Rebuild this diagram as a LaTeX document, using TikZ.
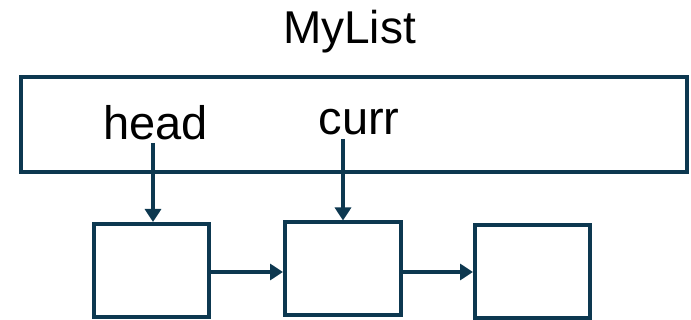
\documentclass[tikz,border=0pt]{standalone}
\usepackage{fontspec}
\setmainfont{Liberation Sans}
\usetikzlibrary{arrows.meta}
\definecolor{navy}{HTML}{0D3850}
\begin{document}
\begin{tikzpicture}[x=1pt,y=-1pt,
  frame/.style={draw=navy,line width=4pt,fill=white,inner sep=0pt,outer sep=2pt},
  cell/.style={frame,minimum width=115pt,minimum height=93pt},
  label/.style={font=\fontsize{46}{46}\selectfont,inner sep=0pt,anchor=base},
  link/.style={draw=navy,line width=3.6pt,-{Triangle[length=13pt,width=16pt]}}]
  \useasboundingbox (0,0) rectangle (691,320);
  % list object and its title
  \node[label] (title) at (349.5,44) {MyList};
  \node[frame,minimum width=666pt,minimum height=95pt] (list) at (354,124.5) {};
  \node[label,font=\fontsize{47}{47}\selectfont] (head) at (155.5,140) {head};
  \node[label,font=\fontsize{47}{47}\selectfont] (curr) at (359,135) {curr};
  % linked nodes
  \node[cell] (n1) at (151.5,270.5) {};
  \node[cell,minimum width=116pt] (n2) at (343,269) {};
  \node[cell] (n3) at (532.5,272) {};
  % pointers
  \coordinate (hs) at (153,143);
  \coordinate (cs) at (343,139);
  \draw[link] (hs) -- (hs |- n1.north);
  \draw[link] (cs) -- (cs |- n2.north);
  \coordinate (a1) at (n1.east |- 0,272);
  \coordinate (a2) at (n2.east |- 0,272);
  \draw[link] (a1) -- (a1 -| n2.west);
  \draw[link] (a2) -- (a2 -| n3.west);
\end{tikzpicture}
\end{document}
